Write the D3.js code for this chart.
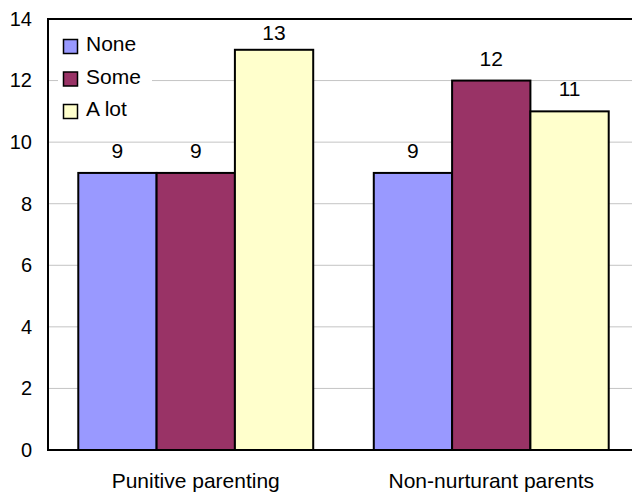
<!DOCTYPE html>
<html>
<head>
<meta charset="utf-8">
<script src="https://cdn.jsdelivr.net/npm/d3@7"></script>
<style>
  html, body { margin: 0; padding: 0; background: #fff; }
  svg { display: block; font-family: "Liberation Sans", Arial, sans-serif; }
</style>
</head>
<body>
<svg id="chart" width="632" height="492"></svg>
<script>
// Chart data
const categories = ["Punitive parenting", "Non-nurturant parents"];
const seriesNames = ["None", "Some", "A lot"];
const seriesColors = ["#9999FF", "#993366", "#FFFFCC"];
const noneValues = [9, 9];
const someValues = [9, 12];
const aLotValues = [13, 11];
const yTicks = [0, 2, 4, 6, 8, 10, 12, 14];

const seriesValues = [noneValues, someValues, aLotValues];

const svg = d3.select("#chart");
const margin = { left: 48, top: 19, right: -7, bottom: 42 };
const W = 632, H = 492;
const plotRight = W - margin.right;
const plotBottom = H - margin.bottom;

const x0 = d3.scaleBand()
  .domain(categories)
  .range([margin.left, plotRight])
  .paddingInner(0.205)
  .paddingOuter(0.1025);

const x1 = d3.scaleBand()
  .domain(seriesNames)
  .range([0, x0.bandwidth()]);

const y = d3.scaleLinear().domain([0, 14]).range([plotBottom, margin.top]);

// Gridlines
svg.append("g")
  .selectAll("line")
  .data(yTicks.filter(t => t > 0 && t < 14))
  .join("line")
  .attr("x1", margin.left).attr("x2", plotRight)
  .attr("y1", d => y(d)).attr("y2", d => y(d))
  .attr("stroke", "#c4c4c4").attr("stroke-width", 1);

// Plot frame
svg.append("rect")
  .attr("x", margin.left).attr("y", margin.top)
  .attr("width", plotRight - margin.left).attr("height", plotBottom - margin.top)
  .attr("fill", "none").attr("stroke", "#000").attr("stroke-width", 2);

// Y axis labels
const yAxis = d3.axisLeft(y).tickValues(yTicks).tickSize(0).tickPadding(16).tickFormat(d3.format("d"));
const yg = svg.append("g").attr("transform", `translate(${margin.left},0)`).call(yAxis);
yg.select(".domain").remove();
yg.selectAll("text").attr("font-size", 20).attr("fill", "#000")
  .attr("font-family", "Liberation Sans, Arial, sans-serif");

// Bars
const groups = svg.append("g").selectAll("g")
  .data(categories)
  .join("g")
  .attr("transform", d => `translate(${x0(d)},0)`);

groups.selectAll("rect")
  .data((c, i) => seriesNames.map((s, k) => ({ s, v: seriesValues[k][i], color: seriesColors[k] })))
  .join("rect")
  .attr("x", d => x1(d.s))
  .attr("y", d => y(d.v))
  .attr("width", x1.bandwidth())
  .attr("height", d => y(0) - y(d.v))
  .attr("fill", d => d.color)
  .attr("stroke", "#000").attr("stroke-width", 2);

// Value labels above bars, kept inside the plot frame
groups.selectAll("text.val")
  .data((c, i) => seriesNames.map((s, k) => ({ s, v: seriesValues[k][i] })))
  .join("text")
  .attr("class", "val")
  .attr("x", d => x1(d.s) + x1.bandwidth() / 2)
  .attr("y", d => Math.max(y(d.v) - 15, margin.top + 21))
  .attr("text-anchor", "middle")
  .attr("font-size", 21)
  .text(d => d.v);

// X axis line
svg.append("line")
  .attr("x1", margin.left).attr("x2", plotRight)
  .attr("y1", plotBottom).attr("y2", plotBottom)
  .attr("stroke", "#000").attr("stroke-width", 2);

// Category labels
svg.append("g").selectAll("text")
  .data(categories)
  .join("text")
  .attr("x", d => x0(d) + x0.bandwidth() / 2)
  .attr("y", plotBottom + 38)
  .attr("text-anchor", "middle")
  .attr("font-size", 21)
  .text(d => d);

// Legend with a plain white background over the gridlines
const legend = svg.append("g").attr("transform", "translate(63,51)");
legend.append("rect")
  .attr("x", -5).attr("y", -22).attr("width", 94).attr("height", 96)
  .attr("fill", "#fff");
const rows = legend.selectAll("g")
  .data(seriesNames)
  .join("g")
  .attr("transform", (d, i) => `translate(0,${i * 32.5})`);
rows.append("rect")
  .attr("x", 0.5).attr("y", -11.5).attr("width", 14).attr("height", 14)
  .attr("fill", (d, i) => seriesColors[i])
  .attr("stroke", "#000").attr("stroke-width", 1.5);
rows.append("text")
  .attr("x", 23).attr("y", 0)
  .attr("font-size", 21)
  .text(d => d);
</script>
</body>
</html>
